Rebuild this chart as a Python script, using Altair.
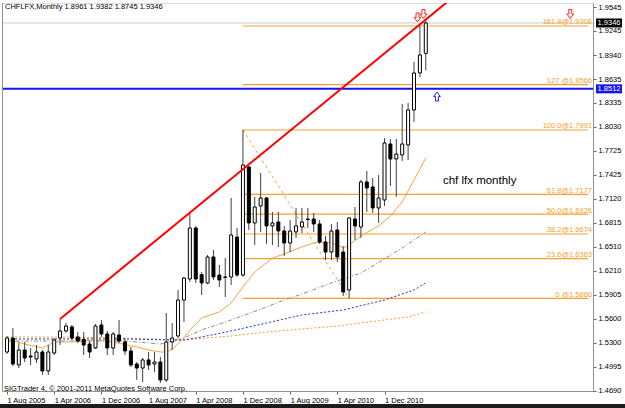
import json
import altair as alt
import pandas as pd

# ---------------- data ----------------
opens = [1.5180, 1.5357, 1.5016, 1.5205, 1.5129, 1.5091, 1.5180, 1.4940, 1.5167, 1.5357,
         1.5446, 1.5497, 1.5370, 1.5340, 1.5281, 1.5231, 1.5522, 1.5408, 1.5231, 1.5395,
         1.5307, 1.5193, 1.5028, 1.4977, 1.5079, 1.5028, 1.5053, 1.4826, 1.5307, 1.5383,
         1.5838, 1.6104, 1.6750, 1.6160, 1.6054, 1.6383, 1.6155, 1.6130, 1.6130, 1.6636,
         1.6155, 1.7523, 1.6814, 1.7029, 1.7130, 1.6776, 1.6826, 1.6712, 1.6560, 1.6700,
         1.6763, 1.6864, 1.6864, 1.6801, 1.6573, 1.6446, 1.6725, 1.6446, 1.5965, 1.6864,
         1.6763, 1.7333, 1.7270, 1.7004, 1.7105, 1.7814, 1.7624, 1.7675, 1.7801, 1.8245,
         1.8713, 1.8961]
highs = [1.5383, 1.5484, 1.5294, 1.5307, 1.5231, 1.5269, 1.5205, 1.5269, 1.5357, 1.5598,
         1.5547, 1.5522, 1.5433, 1.5433, 1.5319, 1.5535, 1.5585, 1.5446, 1.5433, 1.5585,
         1.5357, 1.5243, 1.5053, 1.5104, 1.5180, 1.5180, 1.5117, 1.5674, 1.5547, 1.5965,
         1.6130, 1.6940, 1.6776, 1.6193, 1.6408, 1.6472, 1.6282, 1.6370, 1.7130, 1.6750,
         1.7991, 1.7535, 1.7143, 1.7447, 1.7143, 1.6953, 1.6953, 1.6776, 1.6852, 1.7004,
         1.7004, 1.7004, 1.6940, 1.6852, 1.6649, 1.6801, 1.6826, 1.6522, 1.6889, 1.7016,
         1.7358, 1.7472, 1.7383, 1.7421, 1.7890, 1.7877, 1.7877, 1.8320, 1.8333, 1.8852,
         1.9321, 1.9382]
lows = [1.5155, 1.5003, 1.4977, 1.5053, 1.5016, 1.5041, 1.4889, 1.4889, 1.5142, 1.5269,
        1.5421, 1.5332, 1.5294, 1.5142, 1.5104, 1.5218, 1.5370, 1.5142, 1.5142, 1.5294,
        1.5142, 1.4990, 1.4826, 1.4800, 1.4952, 1.4927, 1.4788, 1.4800, 1.5205, 1.5357,
        1.5560, 1.6066, 1.6054, 1.5902, 1.6041, 1.6092, 1.6003, 1.5876, 1.6028, 1.6130,
        1.6130, 1.6725, 1.6535, 1.6700, 1.6548, 1.6535, 1.6510, 1.6396, 1.6446, 1.6624,
        1.6687, 1.6750, 1.6700, 1.6548, 1.6345, 1.6345, 1.6320, 1.5889, 1.5860, 1.6598,
        1.6624, 1.6953, 1.6940, 1.6814, 1.7029, 1.7282, 1.7143, 1.7599, 1.7611, 1.8093,
        1.8662, 1.8745]
closes = [1.5357, 1.5028, 1.5205, 1.5104, 1.5117, 1.5180, 1.4940, 1.5180, 1.5332, 1.5446,
          1.5509, 1.5357, 1.5319, 1.5269, 1.5180, 1.5509, 1.5408, 1.5231, 1.5408, 1.5319,
          1.5193, 1.5016, 1.4977, 1.5079, 1.5016, 1.5053, 1.4826, 1.5307, 1.5357, 1.5838,
          1.6117, 1.6750, 1.6104, 1.6054, 1.6383, 1.6130, 1.6092, 1.6124, 1.6662, 1.6155,
          1.7548, 1.6814, 1.7016, 1.7130, 1.6776, 1.6814, 1.6712, 1.6560, 1.6712, 1.6776,
          1.6826, 1.6858, 1.6801, 1.6573, 1.6446, 1.6712, 1.6383, 1.5940, 1.6877, 1.6776,
          1.7333, 1.7257, 1.7004, 1.7130, 1.7827, 1.7624, 1.7687, 1.7814, 1.8245, 1.8713,
          1.8941, 1.9346]
bar_index = list(range(len(opens)))   # months from Aug 2005

ma1_k = [0, 3, 6, 8, 11, 15, 18, 22, 24, 26, 27, 28, 30, 31, 33, 36, 38, 40, 42, 45, 47, 50,
         52, 54, 56, 57, 58, 60, 63, 65, 67, 69, 71]
ma1_v = [1.5345, 1.5281, 1.5231, 1.5307, 1.5307, 1.5332, 1.5307, 1.5243, 1.5205, 1.5180,
         1.5180, 1.5218, 1.5357, 1.5459, 1.5611, 1.5687, 1.5801, 1.6003, 1.6193, 1.6370,
         1.6421, 1.6510, 1.6560, 1.6573, 1.6535, 1.6497, 1.6535, 1.6649, 1.6776, 1.6902,
         1.7080, 1.7358, 1.7637]
ma2_k = [0, 10, 20, 24, 26, 28, 30, 33, 38, 44, 47, 50, 55, 60, 64, 67, 71]
ma2_v = [1.5319, 1.5319, 1.5319, 1.5294, 1.5281, 1.5319, 1.5357, 1.5459, 1.5585, 1.5750,
         1.5838, 1.5914, 1.6054, 1.6180, 1.6358, 1.6497, 1.6700]
ma3_k = [0, 10, 20, 28, 30, 33, 38, 44, 50, 57, 64, 69, 71]
ma3_v = [1.5345, 1.5345, 1.5345, 1.5332, 1.5332, 1.5370, 1.5446, 1.5547, 1.5649, 1.5712,
         1.5838, 1.5965, 1.6054]
ma4_k = [0, 10, 20, 30, 38, 44, 50, 56, 64, 68, 71]
ma4_v = [1.5370, 1.5370, 1.5357, 1.5332, 1.5383, 1.5433, 1.5471, 1.5509, 1.5585, 1.5623,
         1.5687]

fib_prices = [1.9308, 1.8566, 1.7991, 1.7177, 1.6926, 1.6674, 1.6363, 1.5860]
fib_labels = ["161.8@1.9308", "127 @1.8566", "100.0@1.7991", "61.8@1.7177",
              "50.0@1.6926", "38.2@1.6674", "23.6@1.6363", "0 @1.5860"]
fib_start = 40
fib_diag_k = [40, 58]
fib_diag_p = [1.7991, 1.5860]

trend_k = [9, 80]
trend_p = [1.5598, 1.9940]

blue_level = 1.8512
last_price = 1.9346

down_arrow_k = [69.6, 70.6, 95.5]
down_arrow_p = [1.9416, 1.9460, 1.9460]
up_arrow_k = [72.9]
up_arrow_p = [1.8415]

y_ticks = [1.4690, 1.4995, 1.5300, 1.5600, 1.5905, 1.6210, 1.6510, 1.6815, 1.7120,
           1.7425, 1.7725, 1.8030, 1.8335, 1.8635, 1.8940, 1.9245, 1.9545]
x_tick_pos = [0, 8, 16, 24, 32, 40, 48, 56, 64]
x_tick_labels = ["1 Aug 2005", "1 Apr 2006", "1 Dec 2006", "1 Aug 2007", "1 Apr 2008",
                 "1 Dec 2008", "1 Aug 2009", "1 Apr 2010", "1 Dec 2010"]

title_text = "CHFLFX,Monthly  1.8961 1.9382 1.8745 1.9346"
copyright_text = "SIGTrader 4, \u00a9 2001-2011 MetaQuotes Software Corp."
note_text = "chf lfx monthly"
note_k = 73.9
note_p = 1.7345

# ---------------- chart ----------------
FONT = "Liberation Sans"
W, H = 591, 388
FIB = "#F3A033"

xs = alt.Scale(domain=[0, 98.5], nice=False, zero=False)
ys = alt.Scale(domain=[1.4686, 1.9599], nice=False, zero=False)

x_axis = alt.Axis(values=x_tick_pos,
                  labelExpr=json.dumps(x_tick_labels) + "[round(datum.value/8)]",
                  labelAlign="left", labelPadding=2, tickSize=3, labelFontSize=7.5,
                  labelFont=FONT, labelColor="black", domainColor="#909090",
                  tickColor="#606060", grid=False, labelFlush=False, labelOverlap=False,
                  title=None)
y_axis = alt.Axis(orient="right", values=y_ticks, format=".4f", tickSize=3,
                  labelPadding=2, labelFontSize=7.5, labelFont=FONT, labelColor="black",
                  domainColor="#909090", tickColor="#606060", grid=False,
                  labelFlush=False, labelOverlap=False, title=None)


def X(f):
    return alt.X(f, scale=xs, axis=x_axis, title=None)


def Y(f):
    return alt.Y(f, scale=ys, axis=y_axis, title=None)


candles = pd.DataFrame({"k": bar_index, "o": opens, "h": highs, "l": lows, "c": closes})
candles["dir"] = ["up" if c >= o else "down" for o, c in zip(opens, closes)]

wicks = alt.Chart(candles).mark_rule(color="#404040", strokeWidth=1).encode(
    x=X("k:Q"), y=Y("l:Q"), y2="h:Q")
bodies = alt.Chart(candles).mark_bar(size=3, stroke="black", strokeWidth=1).encode(
    x=X("k:Q"), y=Y("o:Q"), y2="c:Q",
    fill=alt.Fill("dir:N", scale=alt.Scale(domain=["up", "down"], range=["white", "black"]),
                  legend=None))


def ma_layer(ks, vs, color, dash, width=1):
    df = pd.DataFrame({"k": ks, "p": vs})
    kw = dict(color=color, strokeWidth=width, clip=True)
    if dash:
        kw["strokeDash"] = dash
    return alt.Chart(df).mark_line(**kw).encode(x=X("k:Q"), y=Y("p:Q"))


ma1 = ma_layer(ma1_k, ma1_v, "#F2A24A", None)
ma2 = ma_layer(ma2_k, ma2_v, "#8C8C8C", [4, 2, 1, 2])
ma3 = ma_layer(ma3_k, ma3_v, "#2B2BE8", [2, 2])
ma4 = ma_layer(ma4_k, ma4_v, "#F5A030", [2, 2])

fib_df = pd.DataFrame({"p": fib_prices, "lab": fib_labels, "k1": [fib_start] * len(fib_prices),
                       "k2": [98.5] * len(fib_prices)})
fib_lines = alt.Chart(fib_df).mark_rule(color=FIB, strokeWidth=1.2).encode(
    x=X("k1:Q"), x2="k2:Q", y=Y("p:Q"))
fib_text = alt.Chart(fib_df).mark_text(align="right", baseline="alphabetic", dy=-1.5,
                                       fontSize=7.5, font=FONT, color="#F5A02A").encode(
    x=alt.value(W - 1), y=Y("p:Q"), text="lab:N")
fib_diag = ma_layer(fib_diag_k, fib_diag_p, FIB, [3, 3])

trend = alt.Chart(pd.DataFrame({"k": trend_k, "p": trend_p})).mark_line(
    color="#FF0000", strokeWidth=2, clip=True).encode(x=X("k:Q"), y=Y("p:Q"))

hl_df = pd.DataFrame({"p": [last_price, blue_level], "lab": ["%.4f" % last_price, "%.4f" % blue_level],
                      "box": ["#000000", "#1414F0"]})
gray_line = alt.Chart(hl_df.iloc[[0]]).mark_rule(color="#C8C8C8", strokeWidth=1).encode(y=Y("p:Q"))
blue_line = alt.Chart(hl_df.iloc[[1]]).mark_rule(color="#1414F0", strokeWidth=2).encode(y=Y("p:Q"))
boxes = alt.Chart(hl_df).mark_rule(strokeWidth=9, strokeCap="butt").encode(
    x=alt.value(W + 3), x2=alt.value(W + 29), y=Y("p:Q"),
    color=alt.Color("box:N", scale=None))
box_text = alt.Chart(hl_df).mark_text(align="center", baseline="middle", fontSize=7.5,
                                      font=FONT, color="white").encode(
    x=alt.value(W + 16), y=Y("p:Q"), text="lab:N")

down_path = "M -0.33 -1 L 0.33 -1 L 0.33 0 L 0.75 0 L 0 1 L -0.75 0 L -0.33 0 Z"
up_path = "M -0.33 1 L 0.33 1 L 0.33 0 L 0.75 0 L 0 -1 L -0.75 0 L -0.33 0 Z"
down_arrows = alt.Chart(pd.DataFrame({"k": down_arrow_k, "p": down_arrow_p})).mark_point(
    shape=down_path, size=81, fill="white", stroke="#FF2020", strokeWidth=1, opacity=1,
    fillOpacity=1).encode(x=X("k:Q"), y=Y("p:Q"))
up_arrows = alt.Chart(pd.DataFrame({"k": up_arrow_k, "p": up_arrow_p})).mark_point(
    shape=up_path, size=81, fill="white", stroke="#2020FF", strokeWidth=1, opacity=1,
    fillOpacity=1).encode(x=X("k:Q"), y=Y("p:Q"))

note = alt.Chart(pd.DataFrame({"k": [note_k], "p": [note_p], "t": [note_text]})).mark_text(
    align="left", baseline="middle", fontSize=11.5, font=FONT, color="black").encode(
    x=X("k:Q"), y=Y("p:Q"), text="t:N")

one = pd.DataFrame({"t": [title_text], "c": [copyright_text]})
title = alt.Chart(one).mark_text(align="left", baseline="middle", fontSize=7.5, font=FONT,
                                 color="black").encode(x=alt.value(3), y=alt.value(4), text="t:N")
copyright_ = alt.Chart(one).mark_text(align="left", baseline="middle", fontSize=7.5, font=FONT,
                                      color="black").encode(x=alt.value(2), y=alt.value(386),
                                                            text="c:N")
left_border = alt.Chart(one).mark_rule(color="#909090", strokeWidth=1).encode(
    x=alt.value(0.5), y=alt.value(0), y2=alt.value(H))
bottom_strip = alt.Chart(one).mark_rule(color="#1c1c1c", strokeWidth=4).encode(
    x=alt.value(-2), x2=alt.value(W + 32), y=alt.value(H + 15))

chart = alt.layer(
    fib_lines, fib_diag, gray_line, blue_line, ma4, ma3, ma2, ma1,
    wicks, bodies, trend, fib_text, down_arrows, up_arrows, note,
    title, copyright_, left_border, bottom_strip, boxes, box_text
).properties(
    width=W, height=H,
    padding={"left": 2, "top": 3, "right": 32, "bottom": 17},
    autosize=alt.AutoSizeParams(type="none"),
    background="white",
).configure_view(stroke=None).configure(font=FONT)

chart.save("out.html", embed_options={"renderer": "svg", "actions": False})
